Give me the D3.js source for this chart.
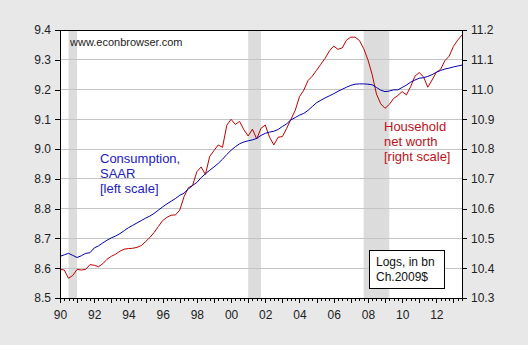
<!DOCTYPE html>
<html><head><meta charset="utf-8">
<script src="https://cdn.jsdelivr.net/npm/d3@7"></script>
<style>
html,body{margin:0;padding:0;background:#e8e8e8;}
svg{display:block;font-family:Arial,"Liberation Sans",sans-serif;}
</style></head>
<body><svg id="c" width="528" height="345"></svg>
<script>
// Quarterly observations, 1990Q1 .. 2013Q3
const startYear = 1990;
const consumption = [8.640,8.645,8.650,8.643,8.636,8.642,8.650,8.652,8.668,8.675,8.685,8.694,8.702,8.708,8.716,8.726,8.736,8.744,8.752,8.760,8.768,8.775,8.784,8.795,8.806,8.816,8.825,8.834,8.845,8.852,8.866,8.878,8.888,8.904,8.917,8.929,8.940,8.952,8.966,8.982,8.996,9.008,9.018,9.024,9.028,9.031,9.036,9.046,9.053,9.057,9.060,9.066,9.076,9.085,9.098,9.106,9.114,9.120,9.130,9.143,9.156,9.164,9.172,9.179,9.186,9.194,9.201,9.208,9.214,9.218,9.219,9.219,9.218,9.216,9.207,9.198,9.193,9.195,9.199,9.199,9.207,9.215,9.225,9.232,9.238,9.240,9.244,9.250,9.258,9.264,9.269,9.272,9.276,9.279,9.282];
const netWorth = [10.396,10.394,10.366,10.376,10.396,10.394,10.396,10.412,10.410,10.405,10.415,10.430,10.440,10.447,10.457,10.464,10.466,10.467,10.470,10.476,10.489,10.503,10.520,10.540,10.560,10.571,10.578,10.579,10.595,10.640,10.670,10.678,10.724,10.740,10.715,10.775,10.795,10.814,10.806,10.880,10.900,10.883,10.893,10.865,10.844,10.867,10.834,10.870,10.881,10.840,10.814,10.840,10.842,10.870,10.900,10.930,10.976,10.998,11.030,11.045,11.065,11.085,11.105,11.130,11.146,11.135,11.140,11.166,11.176,11.176,11.165,11.138,11.100,11.050,10.985,10.952,10.937,10.950,10.970,10.980,10.993,10.982,11.010,11.045,11.057,11.043,11.008,11.032,11.058,11.068,11.097,11.112,11.145,11.166,11.183];
// recession periods (first quarter, last quarter), as [year, quarter]
const recessions = [[[1990,3],[1991,1]],[[2001,1],[2001,4]],[[2007,4],[2009,2]]];
const leftTicks = [8.5,8.6,8.7,8.8,8.9,9.0,9.1,9.2,9.3,9.4];
const rightTicks = [10.3,10.4,10.5,10.6,10.7,10.8,10.9,11.0,11.1,11.2];
const xLabelYears = [1990,1992,1994,1996,1998,2000,2002,2004,2006,2008,2010,2012];
const consLabel = ["Consumption,","SAAR","[left scale]"];
const nwLabel = ["Household","net worth","[right scale]"];
const noteLabel = ["Logs, in bn","Ch.2009$"];
const sourceLabel = "www.econbrowser.com";

const svg = d3.select("#c");
const L=60, R=462, T=30, B=298;
const n = consumption.length;
const qIndex = (y,q)=> (y-startYear)*4 + (q-1);
const x = d3.scaleLinear().domain([0,n-1]).range([L,R]);
const yL = d3.scaleLinear().domain([8.5,9.4]).range([B,T]);
const yR = d3.scaleLinear().domain([10.3,11.2]).range([B,T]);

svg.append("rect").attr("x",L).attr("y",T).attr("width",R-L).attr("height",B-T).attr("fill","#fff");

// recession shading
svg.append("g").selectAll("rect").data(recessions).join("rect")
  .attr("x",d=>x(qIndex(...d[0])))
  .attr("width",d=>x(qIndex(...d[1]))-x(qIndex(...d[0])))
  .attr("y",T).attr("height",B-T).attr("fill","#dcdcdc");

// gridlines
svg.append("g").selectAll("line").data(leftTicks.slice(1,-1)).join("line")
  .attr("x1",L).attr("x2",R).attr("y1",d=>yL(d)).attr("y2",d=>yL(d))
  .attr("stroke","#c4c4c4").attr("stroke-width",1).attr("shape-rendering","crispEdges");

// lines
const lineC = d3.line().x((d,i)=>x(i)).y(d=>yL(d));
const lineN = d3.line().x((d,i)=>x(i)).y(d=>yR(d));
svg.append("path").datum(netWorth).attr("d",lineN).attr("fill","none").attr("stroke","#c00000").attr("stroke-width",1);
svg.append("path").datum(consumption).attr("d",lineC).attr("fill","none").attr("stroke","#0000aa").attr("stroke-width",1);

// frame
svg.append("rect").attr("x",L).attr("y",T).attr("width",R-L).attr("height",B-T)
  .attr("fill","none").attr("stroke","#000").attr("stroke-width",1).attr("shape-rendering","crispEdges");

// axes
const fmt = d3.format(".1f");
const axL = svg.append("g").attr("transform",`translate(${L},0)`)
  .call(d3.axisLeft(yL).tickValues(leftTicks).tickFormat(fmt).tickSize(5).tickPadding(4));
const axR = svg.append("g").attr("transform",`translate(${R},0)`)
  .call(d3.axisRight(yR).tickValues(rightTicks).tickFormat(fmt).tickSize(5).tickPadding(4));
const quarterTicks = d3.range(0,n);
const axB = svg.append("g").attr("transform",`translate(0,${B})`)
  .call(d3.axisBottom(x).tickValues(quarterTicks).tickSize(3).tickFormat(""));
axB.selectAll(".tick line").attr("y2",i=> i%4===0?5:3);
const axB2 = svg.append("g").attr("transform",`translate(0,${B})`)
  .call(d3.axisBottom(x).tickValues(xLabelYears.map(yv=>qIndex(yv,1))).tickSize(0).tickPadding(12)
    .tickFormat(i=>String(startYear+i/4).slice(2)));
[axL,axR,axB,axB2].forEach(a=>{
  a.select(".domain").remove();
  a.selectAll("text").attr("font-size",12).attr("fill","#222").attr("font-family","Arial,'Liberation Sans',sans-serif");
  a.selectAll(".tick line").attr("stroke","#000").attr("shape-rendering","crispEdges");
});

// annotations
svg.append("text").attr("x",70).attr("y",46).attr("font-size",11).attr("fill","#222").text(sourceLabel);
svg.append("g").selectAll("text").data(consLabel).join("text")
  .attr("x",100).attr("y",(d,i)=>163+i*15).attr("font-size",13).attr("fill","#2020c0").text(d=>d);
svg.append("g").selectAll("text").data(nwLabel).join("text")
  .attr("x",384).attr("y",(d,i)=>131+i*15).attr("font-size",13).attr("fill","#c01020").text(d=>d);
svg.append("rect").attr("x",369.5).attr("y",250.5).attr("width",75).attr("height",38)
  .attr("fill","#fff").attr("stroke","#000").attr("stroke-width",1);
svg.append("g").selectAll("text").data(noteLabel).join("text")
  .attr("x",376).attr("y",(d,i)=>266+i*15).attr("font-size",12).attr("fill","#111").text(d=>d);
</script></body></html>
